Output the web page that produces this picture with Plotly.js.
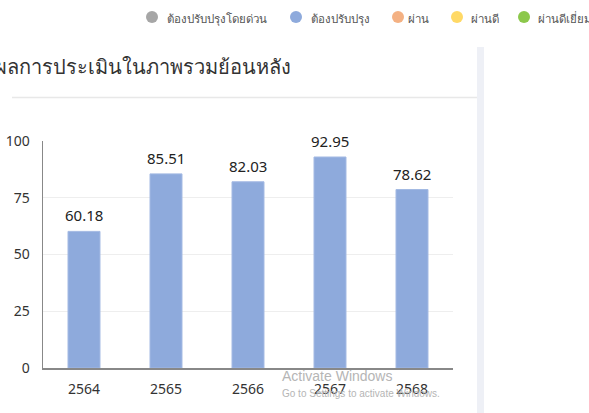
<!DOCTYPE html>
<html><head><meta charset="utf-8">
<script src="https://cdn.plot.ly/plotly-3.0.1.min.js"></script>
<style>html,body{margin:0;padding:0;background:#fff;}#chart{width:589px;height:413px;}</style>
</head><body><div id="chart"></div>
<script>
const years = ['2564','2565','2566','2567','2568'];
const scores = [60.18, 85.51, 82.03, 92.95, 78.62];
const legendNames = ['ต้องปรับปรุงโดยด่วน','ต้องปรับปรุง','ผ่าน','ผ่านดี','ผ่านดีเยี่ยม'];
const legendColors = ['#a6a6a6','#8eaadc','#f4b183','#ffd966','#8cc84b'];
const yTicks = [0,25,50,75,100];
const titleText = 'ผลการประเมินในภาพรวมย้อนหลัง';

const font = '"Noto Sans", "DejaVu Sans", sans-serif';
const W = 589, H = 413, M = {l:43, r:136, t:141, b:45};
const PW = W - M.l - M.r, PH = H - M.t - M.b;
const px = p => (p - M.l) / PW;      // pixel -> paper x
const py = p => (H - M.b - p) / PH;  // pixel -> paper y

const traces = [{
  type:'bar', x:years, y:scores,
  marker:{color:'#8eaadc', line:{color:'#a3b9e3', width:1}},
  showlegend:false, hoverinfo:'none'
}];

// legend layout (pixel positions of circles and labels)
const legCircleX = [152, 296, 398, 457, 524];
const legTextX = [165, 309, 406, 469, 536];
const legY = 17, r = 6;

const shapes = [
  {type:'line', xref:'paper', yref:'paper', x0:px(12), x1:px(477), y0:py(97.5), y1:py(97.5),
    line:{color:'#e8e8e8', width:1.5}},
  {type:'rect', xref:'paper', yref:'paper', x0:px(477), x1:px(484), y0:py(413), y1:py(47),
    fillcolor:'#eef0f6', line:{width:0}}
];
const annotations = [
  {text:titleText, xref:'paper', yref:'paper', x:px(-7), y:py(67), xanchor:'left', yanchor:'middle',
    showarrow:false, font:{size:20,color:'#333',family:font}},
  {text:'Activate Windows', xref:'paper', yref:'paper', x:px(280), y:py(376), xanchor:'left', yanchor:'middle',
    showarrow:false, font:{size:14,color:'#b5b5b5',family:'"Liberation Sans", sans-serif'}},
  {text:'Go to Settings to activate Windows.', xref:'paper', yref:'paper', x:px(280), y:py(393), xanchor:'left', yanchor:'middle',
    showarrow:false, font:{size:10,color:'#b5b5b5',family:'"Liberation Sans", sans-serif'}}
];
legendNames.forEach((n,i)=>{
  shapes.push({type:'circle', xref:'paper', yref:'paper',
    x0:px(legCircleX[i]-r), x1:px(legCircleX[i]+r), y0:py(legY+r), y1:py(legY-r),
    fillcolor:legendColors[i], line:{width:0}});
  annotations.push({text:n, xref:'paper', yref:'paper', x:px(legTextX[i]), y:py(legY+1),
    xanchor:'left', yanchor:'middle', showarrow:false, font:{size:11.5,color:'#555',family:font}});
});
years.forEach((yr,i)=>annotations.push({
  text:scores[i].toFixed(2), x:i, y:scores[i], xref:'x', yref:'y',
  xanchor:'center', yanchor:'bottom', yshift:4, showarrow:false,
  font:{size:15,color:'#222',family:font}
}));

const layout = {
  width:W, height:H, margin:M,
  paper_bgcolor:'#fff', plot_bgcolor:'#fff',
  font:{family:font, color:'#333'},
  bargap:0.61, showlegend:false,
  xaxis:{type:'category', range:[-0.5, years.length-0.5], showline:true, linecolor:'#888', linewidth:1.5,
    showgrid:false, ticks:'', tickfont:{size:14,color:'#333'}, ticklabelstandoff:8, automargin:false},
  yaxis:{range:[0,100], tickvals:yTicks, showline:true, linecolor:'#888', linewidth:1.5,
    gridcolor:'#eeeeee', zeroline:false, ticks:'', tickfont:{size:14,color:'#333'},
    ticklabelstandoff:9, automargin:false},
  shapes:shapes, annotations:annotations
};
Plotly.newPlot('chart', traces, layout, {displayModeBar:false, staticPlot:true});
</script></body></html>
